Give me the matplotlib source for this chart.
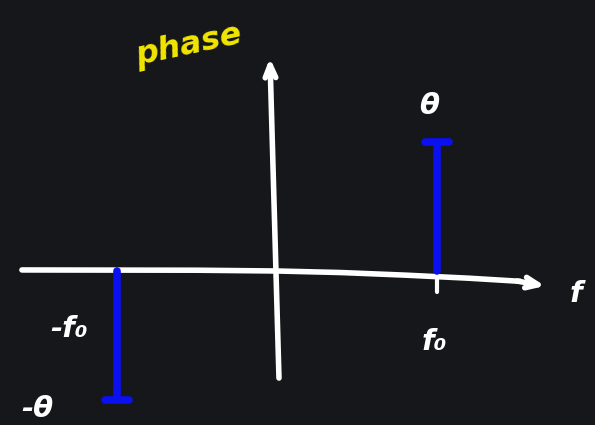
import matplotlib.pyplot as plt

# phase spectrum of a shifted cosine: two lines at -f0 and f0
freqs = [-1.0, 1.0]
phases = [-1.0, 1.0]
freq_labels = ["-f₀", "f₀"]
phase_labels = ["-θ", "θ"]

BG = "#16171a"
CHALK = "white"
BLUE = "#0a10f0"

fig = plt.figure(figsize=(5.95, 4.25), dpi=100, facecolor=BG)
ax = fig.add_axes([0, 0, 1, 1])
ax.set_facecolor(BG)
ax.set_xlim(-1.731, 1.9875)
ax.set_ylim(-1.194, 2.101)
ax.axis("off")

head = dict(arrowstyle="->,head_length=0.9,head_width=0.38", color=CHALK,
            lw=4, shrinkA=0, shrinkB=0)

# frequency axis, sagging a little towards the right end
ax.plot([-1.594, -0.5, 0.0, 0.4, 0.8, 1.2, 1.52],
        [0.008, 0.006, 0.0, -0.012, -0.032, -0.056, -0.08],
        color=CHALK, lw=4, solid_capstyle="round", solid_joinstyle="round")
ax.annotate("", xy=(1.675, -0.116), xytext=(1.50, -0.078), arrowprops=head)

# phase axis
ax.annotate("", xy=(-0.044, 1.651), xytext=(0.0125, -0.83), arrowprops=head)

# tick at f0
ax.plot([1.0, 1.0], [0.05, -0.16], color=CHALK, lw=3, solid_capstyle="round")

# phase lines with caps
for f, p in zip(freqs, phases):
    ax.plot([f, f], [0, p], color=BLUE, lw=5.5, solid_capstyle="round")
    ax.plot([f - 0.075, f + 0.075], [p, p], color=BLUE, lw=5.5,
            solid_capstyle="round")

txt = dict(color=CHALK, fontsize=21, fontweight="bold", style="italic",
           ha="center", va="center")
ax.text(-1.3, -0.45, freq_labels[0], **txt)
ax.text(0.98, -0.55, freq_labels[1], **txt)
ax.text(0.95, 1.28, phase_labels[1], **txt)
ax.text(-1.5, -1.07, phase_labels[0], **txt)
ax.text(1.87, -0.18, "f", **txt)

ax.text(-0.55, 1.75, "phase", color="#f2e600", fontsize=23, fontweight="bold",
        style="italic", rotation=12, ha="center", va="center")

fig.savefig("out.png", dpi=100, facecolor=BG)
